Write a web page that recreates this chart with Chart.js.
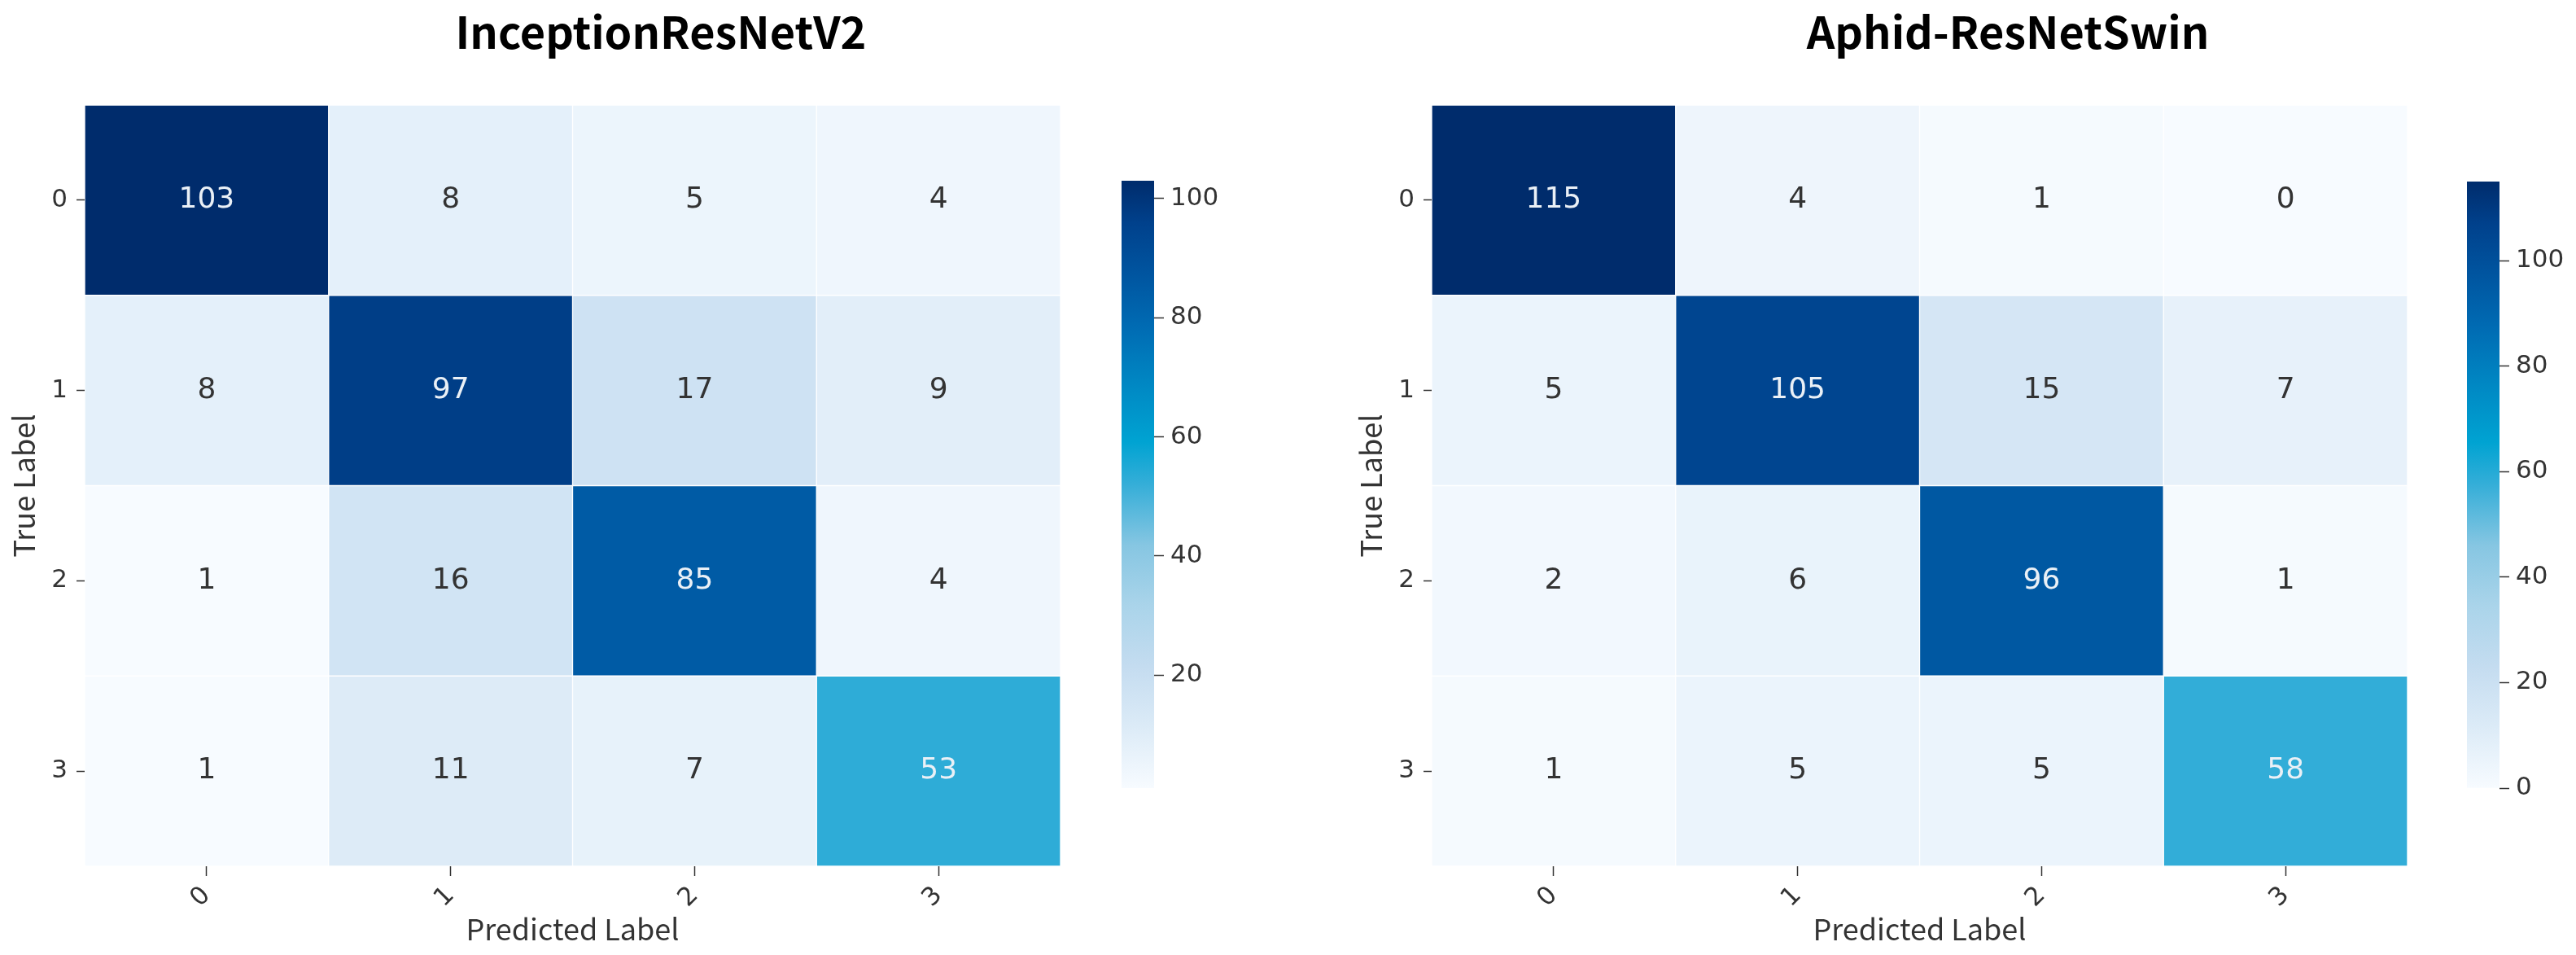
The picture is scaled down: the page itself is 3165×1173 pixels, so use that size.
<!DOCTYPE html>
<html>
<head>
<meta charset="utf-8">
<script src="https://cdn.jsdelivr.net/npm/chart.js@4.4.1/dist/chart.umd.min.js"></script>
<style>
  html, body { margin: 0; padding: 0; background: #ffffff; }
  #wrap { position: relative; width: 3165px; height: 1173px; overflow: hidden; background: #ffffff; }
  canvas { position: absolute; top: 0; }
</style>
</head>
<body>
<div id="wrap">
  <canvas id="heatA" width="1624" height="1173" style="left:0px;width:1624px;height:1173px;"></canvas>
  <canvas id="cbarA" width="250" height="1173" style="left:1300px;width:250px;height:1173px;"></canvas>
  <canvas id="heatB" width="1624" height="1173" style="left:1655px;width:1624px;height:1173px;"></canvas>
  <canvas id="cbarB" width="250" height="1173" style="left:2953px;width:250px;height:1173px;"></canvas>
</div>
<script>
// ---------- DATA ----------
const classLabels = ['0', '1', '2', '3'];
const titleA = 'InceptionResNetV2';
const titleB = 'Aphid-ResNetSwin';
const xTitle = 'Predicted Label';
const yTitle = 'True Label';

const matrixA = [
  [103, 8, 5, 4],
  [8, 97, 17, 9],
  [1, 16, 85, 4],
  [1, 11, 7, 53]
];
const matrixB = [
  [115, 4, 1, 0],
  [5, 105, 15, 7],
  [2, 6, 96, 1],
  [1, 5, 5, 58]
];
const cbTicksA = [20, 40, 60, 80, 100];
const cbTicksB = [0, 20, 40, 60, 80, 100];

// ---------- COLOUR MAP ----------
const cmapStops = [
  [0.00, '#f7fbff'],
  [0.10, '#dcebf7'],
  [0.20, '#c4dcf0'],
  [0.30, '#aad4ea'],
  [0.40, '#86c6e2'],
  [0.50, '#35aed8'],
  [0.57, '#00a3d2'],
  [0.66, '#0089c4'],
  [0.76, '#006bb3'],
  [0.85, '#00549f'],
  [0.93, '#00418c'],
  [1.00, '#002c6c']
];
function hexToRgb(h) {
  return [parseInt(h.slice(1, 3), 16), parseInt(h.slice(3, 5), 16), parseInt(h.slice(5, 7), 16)];
}
function cmap(t) {
  t = Math.max(0, Math.min(1, t));
  for (let i = 1; i < cmapStops.length; i++) {
    const [t1, c1] = cmapStops[i];
    const [t0, c0] = cmapStops[i - 1];
    if (t <= t1) {
      const f = (t - t0) / (t1 - t0);
      const a = hexToRgb(c0), b = hexToRgb(c1);
      const c = a.map((v, k) => Math.round(v + (b[k] - v) * f));
      return 'rgb(' + c.join(',') + ')';
    }
  }
  return cmapStops[cmapStops.length - 1][1];
}

const tickColor = '#333333';
const tickFont = { family: 'DejaVu Sans', size: 31 };
const labelFont = { family: 'Noto Sans CJK SC', size: 36 };

function rangeOf(matrix) {
  const all = matrix.flat();
  return [Math.min(...all), Math.max(...all)];
}

// ---------- HEATMAP ----------
function heatConfig(title, matrix) {
  const [vmin, vmax] = rangeOf(matrix);
  const datasets = matrix.map((row, r) => ({
    label: 'row ' + classLabels[r],
    data: row.map(() => [r, r + 1]),
    backgroundColor: row.map(v => cmap((v - vmin) / (vmax - vmin))),
    borderColor: '#ffffff',
    borderWidth: 1,
    borderSkipped: false,
    grouped: false,
    barPercentage: 1,
    categoryPercentage: 1
  }));
  const valuePlugin = {
    id: 'cellValues',
    afterDatasetsDraw(chart) {
      const ctx = chart.ctx;
      ctx.save();
      ctx.font = '36px "DejaVu Sans"';
      ctx.textAlign = 'center';
      ctx.textBaseline = 'middle';
      chart.data.datasets.forEach((ds, r) => {
        const meta = chart.getDatasetMeta(r);
        meta.data.forEach((el, c) => {
          const v = matrix[r][c];
          const t = (v - vmin) / (vmax - vmin);
          ctx.fillStyle = t > 0.45 ? '#eaf0f6' : '#333333';
          ctx.fillText(String(v), el.x, (el.y + el.base) / 2);
        });
      });
      ctx.restore();
    }
  };
  return {
    type: 'bar',
    data: { labels: classLabels, datasets },
    options: {
      responsive: false,
      animation: false,
      layout: { padding: 0 },
      plugins: {
        legend: { display: false },
        tooltip: { enabled: false },
        title: {
          display: true,
          text: title,
          color: '#000000',
          font: { family: 'Noto Sans CJK SC', size: 54, weight: 'bold', lineHeight: 1.2 },
          padding: { top: 7, bottom: 57.2 }
        }
      },
      scales: {
        x: {
          type: 'category',
          offset: true,
          grid: { display: true, drawOnChartArea: false, offset: false, tickLength: 12, tickColor: tickColor, tickWidth: 1.5 },
          border: { display: false },
          ticks: { color: tickColor, font: tickFont, minRotation: 45, maxRotation: 45, padding: 6 },
          title: { display: true, text: xTitle, color: tickColor, font: labelFont, padding: { top: 0, bottom: 10.4 } },
          afterFit(s) { s.height = 109; }
        },
        y: {
          type: 'linear',
          reverse: true,
          min: 0,
          max: classLabels.length,
          grid: { display: true, drawOnChartArea: false, tickLength: 10, tickColor: tickColor, tickWidth: 1.5 },
          border: { display: false },
          afterBuildTicks(s) { s.ticks = classLabels.map((l, i) => ({ value: i + 0.5 })); },
          ticks: { color: tickColor, font: tickFont, padding: 11, callback: (v, i) => classLabels[i] },
          title: { display: true, text: yTitle, color: tickColor, font: labelFont, padding: { top: 7.7, bottom: 0 } },
          afterFit(s) { s.width = 104; }
        },
        pad: {
          type: 'linear',
          position: 'right',
          display: true,
          grid: { display: false },
          border: { display: false },
          ticks: { display: false },
          afterFit(s) { s.width = 321; }
        }
      }
    },
    plugins: [valuePlugin]
  };
}

// ---------- COLOUR BAR ----------
function cbarConfig(matrix, ticks, topPad) {
  const [vmin, vmax] = rangeOf(matrix);
  return {
    type: 'bar',
    data: {
      labels: ['scale'],
      datasets: [{
        data: [[vmin, vmax]],
        borderWidth: 0,
        barPercentage: 1,
        categoryPercentage: 1,
        backgroundColor(context) {
          const chart = context.chart;
          if (!chart.chartArea) return '#cccccc';
          const ys = chart.scales.y;
          const y0 = ys.getPixelForValue(vmin), y1 = ys.getPixelForValue(vmax);
          const g = chart.ctx.createLinearGradient(0, y0, 0, y1);
          cmapStops.forEach(([t, c]) => g.addColorStop(t, c));
          return g;
        }
      }]
    },
    options: {
      responsive: false,
      animation: false,
      layout: { padding: { left: 78, top: topPad, bottom: 205, right: 0 } },
      plugins: { legend: { display: false }, tooltip: { enabled: false }, title: { display: false } },
      scales: {
        x: { display: false },
        y: {
          type: 'linear',
          position: 'right',
          min: vmin,
          max: vmax,
          grid: { display: true, drawOnChartArea: false, tickLength: 12, tickColor: tickColor, tickWidth: 1.5 },
          border: { display: false },
          afterBuildTicks(s) { s.ticks = ticks.map(v => ({ value: v })); },
          ticks: { color: tickColor, font: tickFont, padding: 8, callback: v => String(v) },
          afterFit(s) { s.width = 132; }
        }
      }
    }
  };
}

new Chart(document.getElementById('heatA'), heatConfig(titleA, matrixA));
new Chart(document.getElementById('heatB'), heatConfig(titleB, matrixB));
new Chart(document.getElementById('cbarA'), cbarConfig(matrixA, cbTicksA, 222));
new Chart(document.getElementById('cbarB'), cbarConfig(matrixB, cbTicksB, 223));
</script>
</body>
</html>
